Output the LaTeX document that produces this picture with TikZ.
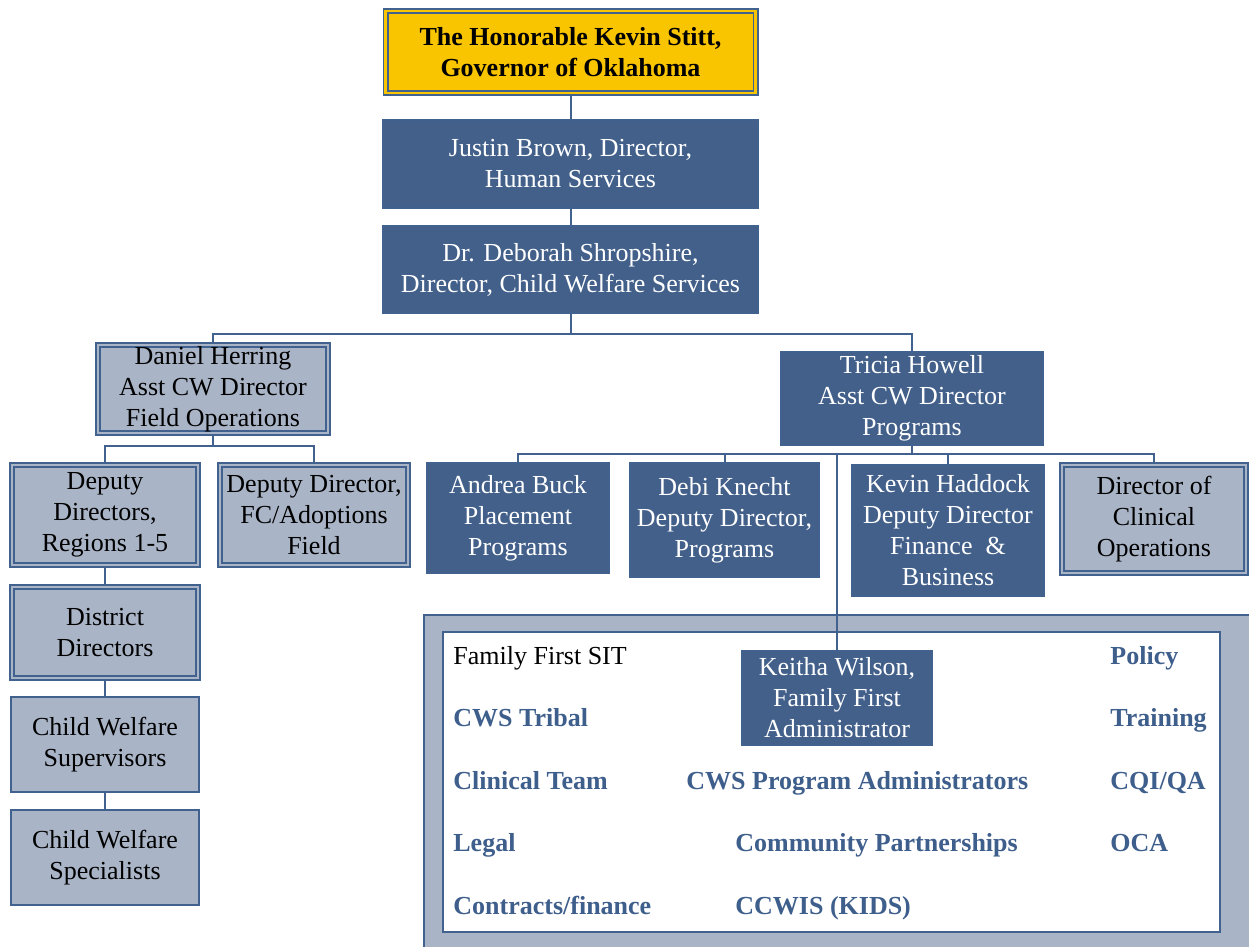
\documentclass[tikz,border=0pt]{standalone}
\usepackage{fontspec}
\setmainfont{Liberation Serif}
\definecolor{cwdark}{HTML}{42608A}
\definecolor{cwlight}{HTML}{A9B4C6}
\definecolor{cwline}{HTML}{41618E}
\definecolor{cwgold}{HTML}{F9C400}
\definecolor{cwtext}{HTML}{3E5E8C}
\tikzset{
  darkbox/.style={draw=cwline, fill=cwdark, text=white, line width=0.6pt},
  lightbox/.style={draw=cwline, fill=cwlight, line width=1pt},
  dblbox/.style={draw=cwline, fill=cwlight, line width=0.85pt, double=cwlight, double distance=1.2pt},
  govbox/.style={draw=cwline, fill=cwgold, line width=0.85pt, double=cwgold, double distance=1.3pt, font=\fontsize{13}{15.5}\selectfont\bfseries},
  link/.style={draw=cwline, line width=1pt},
  unit/.style={anchor=west, text height=9pt, text depth=2.5pt, text=cwtext, font=\fontsize{13}{15.5}\selectfont\bfseries}
}
\begin{document}
\begin{tikzpicture}[x=0.5pt, y=-0.5pt,
  every node/.style={font=\fontsize{13}{15.5}\selectfont, align=center, inner sep=0pt}]
\useasboundingbox (0,0) rectangle (1249,947);
\clip (0,0) rectangle (1249,947);

% Family First panel
\draw[cwline, fill=cwlight, line width=1pt] (424,615) rectangle (1270,970);
\draw[cwline, fill=white, line width=1.2pt] (443,632) rectangle (1220,932);

% top of the chain
\node[govbox, minimum width=185pt, minimum height=41pt] (gov) at (570.5,52) {The Honorable Kevin Stitt,\\Governor of Oklahoma};
\node[darkbox, minimum width=187.5pt, minimum height=44pt] (jb) at (570.5,164) {Justin Brown, Director,\\Human Services};
\node[darkbox, minimum width=187.5pt, minimum height=43.5pt] (ds) at (570.5,269.5) {Dr. Deborah Shropshire,\\Director, Child Welfare Services};

% field operations
\node[dblbox, minimum width=115pt, minimum height=44pt] (dh) at (213,389) {Daniel Herring\\Asst CW Director\\Field Operations};
\node[dblbox, minimum width=93pt, minimum height=50pt] (ddr) at (105,515) {Deputy\\Directors,\\Regions 1-5};
\node[dblbox, minimum width=94pt, minimum height=50pt] (ddf) at (314,515) {Deputy Director,\\FC/Adoptions\\Field};
\node[dblbox, minimum width=93pt, minimum height=45.5pt] (dd) at (105,632.5) {District\\Directors};
\node[lightbox, minimum width=94pt, minimum height=47.5pt] (sup) at (105,744.5) {Child Welfare\\Supervisors};
\node[lightbox, minimum width=94pt, minimum height=47.5pt] (spec) at (105,857.5) {Child Welfare\\Specialists};

% programs
\node[darkbox, minimum width=131pt, minimum height=46.5pt] (th) at (912,398.5) {Tricia Howell\\Asst CW Director\\Programs};
\node[darkbox, minimum width=91pt, minimum height=55pt] (ab) at (518,518) {Andrea Buck\\Placement\\Programs};
\node[darkbox, minimum width=94.5pt, minimum height=57pt] (dk) at (724.5,520) {Debi Knecht\\Deputy Director,\\Programs};
\node[darkbox, minimum width=96pt, minimum height=65.5pt] (kh) at (948,530.5) {Kevin Haddock\\Deputy Director\\Finance \ \&\\Business};
\node[dblbox, minimum width=92pt, minimum height=54pt] (dco) at (1154,519) {Director of\\Clinical\\Operations};
\node[darkbox, minimum width=95pt, minimum height=47pt] (kw) at (837,698) {Keitha Wilson,\\Family First\\Administrator};

% panel texts
\node[unit, text=black, font=\fontsize{13}{15.5}\selectfont] (ffsit) at (453,658) {Family First SIT};
\foreach \x/\y/\t [count=\i] in {1110/658/Policy, 453/720/CWS Tribal, 1110/720/Training,
    453/783/Clinical Team, 686/783/CWS Program Administrators, 1110/783/{CQI/QA},
    453/845/Legal, 735/845/Community Partnerships, 1110/845/OCA,
    453/908/{Contracts/finance}, 735/908/{CCWIS (KIDS)}}
  \node[unit] (unit\i) at (\x,\y) {\t};

% connectors
\coordinate (hub1) at (570.5,334);
\coordinate (hub2) at (213,446);
\coordinate (hub3) at (912,454);
\draw[link] (gov) -- (jb);
\draw[link] (jb) -- (ds);
\draw[link] (ds) -- (hub1);
\foreach \n in {dh,th} \draw[link] (hub1) -| (\n.north);
\draw[link] (dh) -- (hub2);
\foreach \n in {ddr,ddf} \draw[link] (hub2) -| (\n.north);
\draw[link] (ddr) -- (dd);
\draw[link] (dd) -- (sup);
\draw[link] (sup) -- (spec);
\draw[link] (th) -- (hub3);
\foreach \n in {ab,dk,kh,dco,kw} \draw[link] (hub3) -| (\n.north);
\end{tikzpicture}
\end{document}
